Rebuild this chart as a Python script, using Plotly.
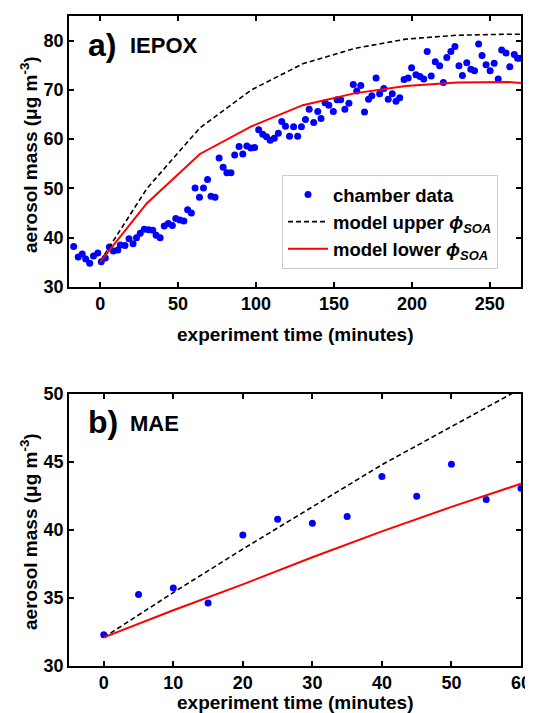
import plotly.graph_objects as go

# ---------------- data: panel a) IEPOX ----------------
iepox_t = [-17.0, -14.1, -11.5, -9.3, -6.7, -4.3, -1.5, 0.7, 3.3, 5.9, 8.5, 11.3, 13.0, 15.9,
           18.5, 21.1, 23.3, 25.7, 28.3, 31.1, 33.7, 35.9, 38.5, 41.1, 43.7, 46.3, 48.5, 51.1,
           53.7, 56.1, 58.5, 60.9, 63.7, 66.3, 68.9, 71.1, 73.7, 76.3, 78.9, 81.3, 83.9, 86.3,
           89.1, 91.5, 94.1, 96.7, 99.1, 101.7, 104.3, 106.7, 109.1, 111.7, 114.3, 116.5, 118.9,
           121.5, 124.1, 126.7, 129.1, 131.7, 134.1, 137.0, 139.6, 141.7, 144.3, 146.7, 149.6,
           152.0, 154.3, 157.0, 159.6, 162.4, 164.6, 167.2, 169.6, 172.2, 174.3, 177.0, 179.3,
           182.0, 184.8, 187.4, 189.8, 192.2, 195.0, 197.6, 199.8, 202.6, 205.2, 207.6, 209.8,
           212.4, 215.0, 217.8, 220.2, 222.4, 225.0, 227.6, 230.2, 232.4, 235.2, 237.8, 240.2,
           242.8, 245.0, 247.6, 250.2, 252.8, 255.4, 257.6, 260.4, 262.8, 265.7, 267.8, 270.0]
iepox_mass = [38.2, 36.1, 36.7, 35.7, 34.8, 36.3, 36.9, 35.1, 35.9, 38.1, 37.3, 37.5, 38.5, 38.4,
              39.8, 38.8, 40.0, 40.9, 41.7, 41.6, 41.5, 40.5, 40.0, 42.4, 42.9, 42.5, 43.9, 43.6,
              43.4, 45.7, 45.0, 50.1, 48.2, 50.1, 51.8, 48.4, 48.2, 56.2, 54.3, 53.2, 53.2, 56.8,
              58.5, 57.0, 58.6, 58.2, 58.3, 61.9, 61.0, 60.5, 59.8, 60.2, 61.2, 63.6, 62.6,
              60.6, 62.5, 60.6, 62.5, 64.0, 66.1, 63.4, 65.6, 64.2, 67.4, 66.9, 65.6,
              68.0, 68.0, 66.1, 67.3, 71.1, 69.8, 70.9, 65.5, 68.1, 68.8, 72.4, 69.2,
              70.3, 68.1, 69.2, 67.7, 68.4, 72.1, 72.4, 74.5, 73.1, 72.7, 72.2, 77.8,
              72.8, 75.7, 74.9, 71.5, 76.6, 77.8, 78.8, 74.9, 72.9, 75.5, 74.2, 73.9,
              79.3, 77.0, 75.1, 73.9, 75.4, 72.2, 78.1, 77.5, 74.7, 77.2, 76.4, 76.4]

iepox_model_t = [0, 30, 64, 97, 130, 163, 196, 229, 262, 270]
iepox_upper = [35.2, 50.0, 62.3, 70.0, 75.3, 78.4, 80.3, 81.1, 81.3, 81.3]
iepox_lower = [35.1, 47.0, 57.0, 62.6, 66.9, 69.3, 70.8, 71.5, 71.6, 71.4]

# ---------------- data: panel b) MAE ----------------
mae_t = [0, 5, 10, 15, 20, 25, 30, 35, 40, 45, 50, 55, 60]
mae_mass = [32.3, 35.26, 35.73, 34.64, 39.63, 40.79, 40.49, 41.0, 43.93, 42.48, 44.84, 42.24, 43.07]

mae_model_t = [0, 10, 20, 30, 40, 50, 60]
mae_upper = [32.1, 35.4, 38.6, 41.7, 44.8, 47.6, 50.4]
mae_lower = [32.1, 34.1, 36.0, 38.0, 39.9, 41.7, 43.4]

xticks_a = [0, 50, 100, 150, 200, 250]
yticks_a = [30, 40, 50, 60, 70, 80]
xticks_b = [0, 10, 20, 30, 40, 50, 60]
yticks_b = [30, 35, 40, 45, 50]

FONT = "Liberation Sans"
BLUE = "#0000ff"
RED = "#ff0000"
phi = "<i>ϕ</i><sub><i>SOA</i></sub>"

fig = go.Figure()

# panel a
fig.add_trace(go.Scatter(x=iepox_t, y=iepox_mass, mode="markers", name="chamber data",
                         marker=dict(color=BLUE, size=7), xaxis="x", yaxis="y"))
fig.add_trace(go.Scatter(x=iepox_model_t, y=iepox_upper, mode="lines",
                         name="model upper " + phi,
                         line=dict(color="black", width=1.6, dash="5px,3px"), xaxis="x", yaxis="y"))
fig.add_trace(go.Scatter(x=iepox_model_t, y=iepox_lower, mode="lines",
                         name="model lower " + phi,
                         line=dict(color=RED, width=2), xaxis="x", yaxis="y"))
# panel b
fig.add_trace(go.Scatter(x=mae_t, y=mae_mass, mode="markers", showlegend=False,
                         marker=dict(color=BLUE, size=7), xaxis="x2", yaxis="y2"))
fig.add_trace(go.Scatter(x=mae_model_t, y=mae_upper, mode="lines", showlegend=False,
                         line=dict(color="black", width=1.6, dash="5px,3px"), xaxis="x2", yaxis="y2"))
fig.add_trace(go.Scatter(x=mae_model_t, y=mae_lower, mode="lines", showlegend=False,
                         line=dict(color=RED, width=2), xaxis="x2", yaxis="y2"))

# page body has a default 8px margin -> figure drawn at (8, 8)
OFF = 8
W, H = 533 - OFF, 713 - OFF
# target plot-area edges in screen pixels
SL, SR, ST, SB = 69, 521, 16, 666
ML, MT = SL - OFF, ST - OFF
MR, MB = W - (SR - OFF), H - (SB - OFF)
PW, PH = W - ML - MR, H - MT - MB

def px_x(px):
    return (px - OFF - ML) / PW

def px_y(py):
    return (H - MB - (py - OFF)) / PH

ydom_a = [px_y(287), 1.0]
ydom_b = [0.0, px_y(394)]

tickfont = dict(family=FONT, size=18, color="black", weight="bold")

def axis(**kw):
    base = dict(showline=True, linecolor="black", linewidth=1.5, mirror="ticks",
                ticks="inside", ticklen=5, tickwidth=1.5, tickcolor="black",
                showgrid=False, zeroline=False, tickfont=tickfont, automargin=False)
    base.update(kw)
    return base

ytitle = "<b>aerosol mass (μg m<sup>-3</sup>)</b>"
xtitle = "<b>experiment time (minutes)</b>"

def ann(text, x, y, size, xanchor="left", angle=0):
    return dict(text=text, x=x, y=y, xref="paper", yref="paper", xanchor=xanchor,
                yanchor="middle", showarrow=False, textangle=angle,
                font=dict(family=FONT, size=size, color="black"))

fig.update_layout(
    width=W, height=H, margin=dict(l=ML, r=MR, t=MT, b=MB, autoexpand=False),
    paper_bgcolor="white", plot_bgcolor="white",
    font=dict(family=FONT, color="black"),
    xaxis=axis(domain=[0, 1], range=[-20, 270], tickvals=xticks_a, anchor="y"),
    yaxis=axis(domain=ydom_a, range=[30, 85], tickvals=yticks_a, anchor="x"),
    xaxis2=axis(domain=[0, 1], range=[-5, 60], tickvals=xticks_b, anchor="y2"),
    yaxis2=axis(domain=ydom_b, range=[30, 50], tickvals=yticks_b, anchor="x2"),
    legend=dict(x=px_x(282), y=px_y(175), xanchor="left", yanchor="top",
                bgcolor="white", bordercolor="#cccccc", borderwidth=1,
                font=dict(family=FONT, size=18.5, color="black", weight="bold"),
                tracegroupgap=0, itemwidth=40),
    showlegend=True,
    annotations=[
        ann("<b>a)</b>", px_x(86), px_y(45), 32),
        ann("<b>IEPOX</b>", px_x(128), px_y(46), 22),
        ann("<b>b)</b>", px_x(86), px_y(422), 32),
        ann("<b>MAE</b>", px_x(128), px_y(423), 22),
        ann(xtitle, 0.5, px_y(334), 19, xanchor="center"),
        ann(xtitle, 0.5, px_y(702), 19, xanchor="center"),
        ann(ytitle, px_x(29), px_y(155), 19, xanchor="center", angle=-90),
        ann(ytitle, px_x(29), px_y(532), 19, xanchor="center", angle=-90),
    ],
)

fig.write_html("out.html")
